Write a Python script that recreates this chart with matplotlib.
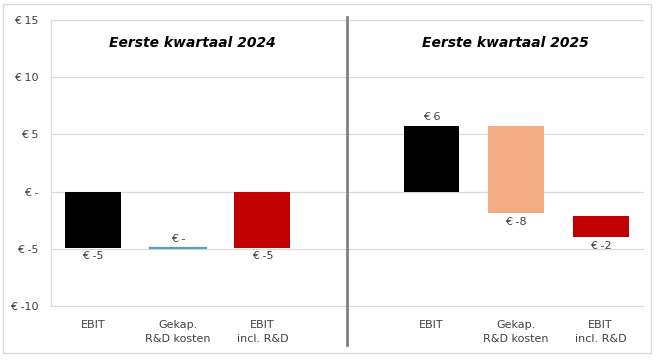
import matplotlib
matplotlib.use("Agg")
import matplotlib.pyplot as plt
from matplotlib.patches import Rectangle

# categories: 3 left, empty slot (separator), 3 right
categories = ["EBIT", "Gekap.\nR&D kosten", "EBIT\nincl. R&D", "",
              "EBIT", "Gekap.\nR&D kosten", "EBIT\nincl. R&D"]
bar_top = [0, -4.9, 0, None, 5.7, 5.7, -2.1]
bar_bottom = [-4.9, -4.9, -4.9, None, 0, -1.9, -4.0]
bar_labels = ["€ -5", "€ -", "€ -5", None, "€ 6", "€ -8", "€ -2"]
label_pos = ["below", "above", "below", None, "above", "below", "below"]
colors = ["#000000", "#5b9bc0", "#c00000", None, "#000000", "#f4ac85", "#c00000"]
titles = ["Eerste kwartaal 2024", "Eerste kwartaal 2025"]
title_x = [1.17, 4.87]
yticks = [15, 10, 5, 0, -5, -10]
ytick_labels = ["€ 15", "€ 10", "€ 5", "€ -", "€ -5", "€ -10"]

fig = plt.figure(figsize=(6.57, 3.6), dpi=100)
fig.patch.set_facecolor("white")
fig.add_artist(Rectangle((0.005, 0.02), 0.986, 0.97, transform=fig.transFigure,
                         fill=False, edgecolor="#d9d9d9", linewidth=1))

ax = fig.add_axes([0.0776, 0.15, 0.901, 0.794])
ax.set_xlim(-0.5, 6.5)
ax.set_ylim(-10, 15)

for y in yticks:
    ax.axhline(y, color="#d9d9d9", linewidth=0.9, zorder=0, clip_on=False)

w = 0.66
for i in range(len(categories)):
    if bar_top[i] is None:
        continue
    h = bar_top[i] - bar_bottom[i]
    if h == 0:
        ax.plot([i - w / 2, i + w / 2], [bar_top[i], bar_top[i]],
                color=colors[i], linewidth=1.6, zorder=3)
    else:
        ax.bar(i, h, bottom=bar_bottom[i], width=w, color=colors[i], zorder=3)
    if label_pos[i] == "above":
        ax.text(i, bar_top[i] + 0.35, bar_labels[i], ha="center", va="bottom",
                fontsize=8, color="#404040")
    else:
        ax.text(i, bar_bottom[i] - 0.3, bar_labels[i], ha="center", va="top",
                fontsize=8, color="#404040")

for t, x in zip(titles, title_x):
    ax.text(x, 13.0, t, ha="center", va="center", fontsize=10,
            fontweight="bold", fontstyle="italic", color="#000000")

# separator between the two quarters
ax.plot([3, 3], [-13.4, 15.3], color="#808080", linewidth=2, clip_on=False, zorder=4)

ax.set_yticks(yticks)
ax.set_yticklabels(ytick_labels, fontsize=8, color="#404040")
ax.set_xticks(range(len(categories)))
ax.set_xticklabels(categories, fontsize=8, color="#404040", linespacing=1.5)
ax.tick_params(length=0, pad=9)
ax.tick_params(axis="x", pad=10)
for s in ["top", "right", "bottom"]:
    ax.spines[s].set_visible(False)
ax.spines["left"].set_color("#d9d9d9")

fig.savefig("out.png", dpi=100)
